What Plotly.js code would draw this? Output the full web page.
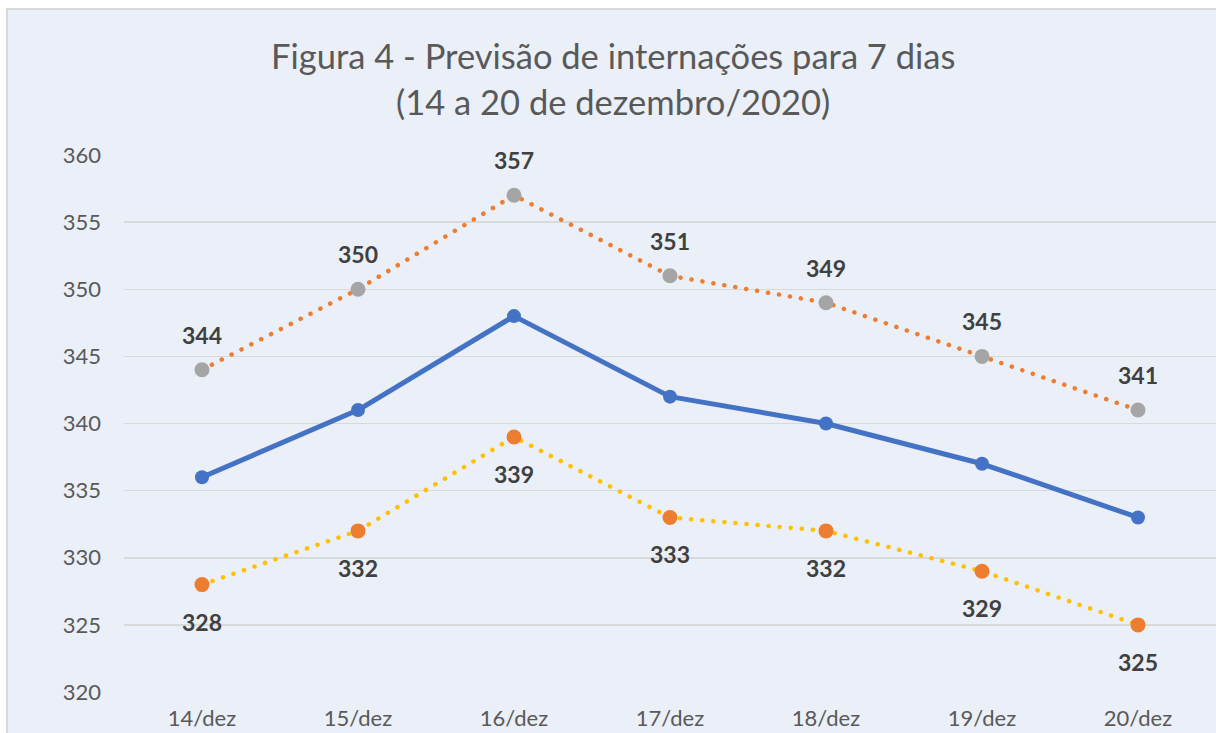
<!DOCTYPE html>
<html>
<head>
<meta charset="utf-8">
<script src="https://cdn.plot.ly/plotly-3.0.1.min.js"></script>
<style>
html,body{margin:0;padding:0;background:#fff;}
#chart{width:1216px;height:733px;}
.scatterlayer .trace .js-line{stroke-linecap:round;stroke-linejoin:round;}
</style>
</head>
<body>
<div id="chart"></div>
<script>
const categories = ["14/dez","15/dez","16/dez","17/dez","18/dez","19/dez","20/dez"];
const previsao = [336, 341, 348, 342, 340, 337, 333];
const limiteSuperior = [344, 350, 357, 351, 349, 345, 341];
const limiteInferior = [328, 332, 339, 333, 332, 329, 325];
const yTicks = [320, 325, 330, 335, 340, 345, 350, 355, 360];
const titleLines = ["Figura 4 - Previsão de internações para 7 dias", "(14 a 20 de dezembro/2020)"];

const idx = categories.map((c, i) => i);
const FONT = "Lato, 'Open Sans', sans-serif";

const traces = [
  {
    x: idx, y: limiteSuperior, type: 'scatter', mode: 'lines+markers',
    line: {color: '#ED7D31', width: 4.5, dash: '0.1px,11px'},
    marker: {color: '#A5A5A5', size: 15},
    hoverinfo: 'x+y', showlegend: false
  },
  {
    x: idx, y: limiteInferior, type: 'scatter', mode: 'lines+markers',
    line: {color: '#FFC000', width: 4.5, dash: '0.1px,11px'},
    marker: {color: '#ED7D31', size: 15},
    hoverinfo: 'x+y', showlegend: false
  },
  {
    x: idx, y: previsao, type: 'scatter', mode: 'lines+markers',
    line: {color: '#4472C4', width: 5},
    marker: {color: '#4472C4', size: 14},
    hoverinfo: 'x+y', showlegend: false
  }
];

const annotations = [];
limiteSuperior.forEach((v, i) => annotations.push({
  x: i, y: v, xref: 'x', yref: 'y', text: String(v), showarrow: false,
  yshift: 35, font: {family: FONT, size: 23, color: '#404040', weight: 'bold'}
}));
limiteInferior.forEach((v, i) => annotations.push({
  x: i, y: v, xref: 'x', yref: 'y', text: String(v), showarrow: false,
  yshift: -37, font: {family: FONT, size: 23, color: '#404040', weight: 'bold'}
}));
// Two-line chart title placed in paper space
const plotTop = 155, plotBottom = 692, plotH = plotBottom - plotTop;
[56, 101].forEach((py, i) => annotations.push({
  x: (613 - 124) / 1092, y: (plotBottom - py) / plotH, xref: 'paper', yref: 'paper',
  xanchor: 'center', yanchor: 'middle', showarrow: false, text: titleLines[i],
  font: {family: FONT, size: 34.5, color: '#595959'}
}));

const layout = {
  width: 1216, height: 733,
  margin: {l: 124, r: 0, t: 155, b: 41},
  paper_bgcolor: '#ffffff',
  plot_bgcolor: 'rgba(0,0,0,0)',
  font: {family: FONT, color: '#595959'},
  xaxis: {
    range: [-0.5, 6.5],
    tickmode: 'array', tickvals: idx, ticktext: categories,
    showgrid: false, zeroline: false, showline: false, ticks: '',
    tickfont: {family: FONT, size: 22, color: '#595959'},
    ticklabelstandoff: 11, fixedrange: true
  },
  yaxis: {
    range: [320, 360],
    tickmode: 'array', tickvals: yTicks,
    showgrid: true, gridcolor: '#D9D9D9', gridwidth: 1.5,
    zeroline: false, showline: false, ticks: '',
    tickfont: {family: FONT, size: 22, color: '#595959'},
    ticklabelstandoff: 22, fixedrange: true
  },
  shapes: [{
    type: 'rect', xref: 'paper', yref: 'paper', layer: 'below',
    x0: (7 - 124) / 1092, x1: 1.2,
    y0: -0.2, y1: (692 - 9) / 537,
    fillcolor: '#EAEFF8', line: {color: '#D9D9D9', width: 2}
  }],
  annotations: annotations,
  showlegend: false
};

Plotly.newPlot('chart', traces, layout, {displayModeBar: false, staticPlot: true});
</script>
</body>
</html>
